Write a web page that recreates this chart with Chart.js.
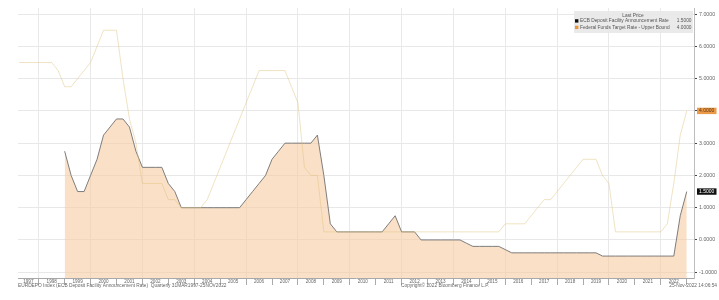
<!DOCTYPE html>
<html>
<head>
<meta charset="utf-8">
<script src="https://cdn.jsdelivr.net/npm/chart.js@4"></script>
<style>
  html, body { margin: 0; padding: 0; background: #fff; }
  canvas { display: block; }
</style>
</head>
<body>
<canvas id="rates" width="719" height="300"></canvas>
<script>
// quarterly, one row per year (Q1..Q4, plotted at quarter end)
const years = [1997, 1998, 1999, 2000, 2001, 2002, 2003, 2004, 2005, 2006, 2007, 2008, 2009,
  2010, 2011, 2012, 2013, 2014, 2015, 2016, 2017, 2018, 2019, 2020, 2021, 2022];

const ecbDeposit = [
  null, null, null, null,      // 1997
  null, null, null, 2.75,      // 1998
  2.00, 1.50, 1.50, 2.00,      // 1999
  2.50, 3.25, 3.50, 3.75,      // 2000
  3.75, 3.50, 2.75, 2.25,      // 2001
  2.25, 2.25, 2.25, 1.75,      // 2002
  1.50, 1.00, 1.00, 1.00,      // 2003
  1.00, 1.00, 1.00, 1.00,      // 2004
  1.00, 1.00, 1.00, 1.25,      // 2005
  1.50, 1.75, 2.00, 2.50,      // 2006
  2.75, 3.00, 3.00, 3.00,      // 2007
  3.00, 3.00, 3.25, 2.00,      // 2008
  0.50, 0.25, 0.25, 0.25,      // 2009
  0.25, 0.25, 0.25, 0.25,      // 2010
  0.25, 0.50, 0.75, 0.25,      // 2011
  0.25, 0.25, 0.00, 0.00,      // 2012
  0.00, 0.00, 0.00, 0.00,      // 2013
  0.00, -0.10, -0.20, -0.20,   // 2014
  -0.20, -0.20, -0.20, -0.30,  // 2015
  -0.40, -0.40, -0.40, -0.40,  // 2016
  -0.40, -0.40, -0.40, -0.40,  // 2017
  -0.40, -0.40, -0.40, -0.40,  // 2018
  -0.40, -0.40, -0.50, -0.50,  // 2019
  -0.50, -0.50, -0.50, -0.50,  // 2020
  -0.50, -0.50, -0.50, -0.50,  // 2021
  -0.50, -0.50, 0.75, 1.50     // 2022
];

const fedUpper = [
  5.50, 5.50, 5.50, 5.50,  // 1997
  5.50, 5.50, 5.25, 4.75,  // 1998
  4.75, 5.00, 5.25, 5.50,  // 1999
  6.00, 6.50, 6.50, 6.50,  // 2000
  5.00, 3.75, 3.00, 1.75,  // 2001
  1.75, 1.75, 1.75, 1.25,  // 2002
  1.25, 1.00, 1.00, 1.00,  // 2003
  1.00, 1.25, 1.75, 2.25,  // 2004
  2.75, 3.25, 3.75, 4.25,  // 2005
  4.75, 5.25, 5.25, 5.25,  // 2006
  5.25, 5.25, 4.75, 4.25,  // 2007
  2.25, 2.00, 2.00, 0.25,  // 2008
  0.25, 0.25, 0.25, 0.25,  // 2009
  0.25, 0.25, 0.25, 0.25,  // 2010
  0.25, 0.25, 0.25, 0.25,  // 2011
  0.25, 0.25, 0.25, 0.25,  // 2012
  0.25, 0.25, 0.25, 0.25,  // 2013
  0.25, 0.25, 0.25, 0.25,  // 2014
  0.25, 0.25, 0.25, 0.50,  // 2015
  0.50, 0.50, 0.50, 0.75,  // 2016
  1.00, 1.25, 1.25, 1.50,  // 2017
  1.75, 2.00, 2.25, 2.50,  // 2018
  2.50, 2.50, 2.00, 1.75,  // 2019
  0.25, 0.25, 0.25, 0.25,  // 2020
  0.25, 0.25, 0.25, 0.25,  // 2021
  0.50, 1.75, 3.25, 4.00   // 2022
];

const yTicks = [-1, 0, 1, 2, 3, 4, 5, 6, 7];
const lastEcb = "1.5000";
const lastFed = "4.0000";

const FONT = "'Liberation Sans', Arial, sans-serif";
const FED_COLOR = "rgba(222,192,122,0.5)";
const FILL_COLOR = "rgba(246,204,160,0.6)";

// quarter-end positions in decimal years
const quarterX = [];
years.forEach((y) => {
  [0.25, 0.5, 0.75, 1].forEach((q) => quarterX.push(y + q));
});
const toPoints = (arr) => arr.map((v, i) => ({ x: quarterX[i], y: v }));

const extras = {
  id: "extras",
  afterDraw(chart) {
    const ctx = chart.ctx;
    const xs = chart.scales.x;
    const ys = chart.scales.y;
    const area = chart.chartArea;
    ctx.save();

    // year labels, centred in each year
    ctx.font = `4.6px ${FONT}`;
    ctx.fillStyle = "#666";
    ctx.textAlign = "center";
    ctx.textBaseline = "middle";
    years.forEach((y) => {
      const a = Math.max(y, xs.min);
      const b = Math.min(y + 1, xs.max);
      ctx.fillText(String(y), xs.getPixelForValue((a + b) / 2), area.bottom + 4);
    });

    // footnotes
    ctx.font = `4.8px ${FONT}`;
    ctx.textBaseline = "middle";
    ctx.textAlign = "left";
    ctx.fillText("EURDEPO Index (ECB Deposit Facility Announcement Rate)  Quarterly 31MAR1997-25NOV2022", 18, 285.5);
    ctx.fillText("Copyright\u00A9 2022 Bloomberg Finance L.P.", 401, 285.5);
    ctx.textAlign = "right";
    ctx.fillText("25-Nov-2022 14:06:54", 717, 285.5);

    // legend box
    ctx.fillStyle = "rgba(232,232,232,0.9)";
    ctx.fillRect(574, 11, 119, 22);
    ctx.font = `4.8px ${FONT}`;
    ctx.fillStyle = "#555";
    ctx.textAlign = "center";
    ctx.fillText("Last Price", 633, 15.5);
    ctx.textAlign = "left";
    ctx.fillStyle = "#111";
    ctx.fillRect(575, 19.2, 3.4, 3.4);
    ctx.fillStyle = "#e9953c";
    ctx.fillRect(575, 25.7, 3.4, 3.4);
    ctx.fillStyle = "#555";
    ctx.fillText("ECB Deposit Facility Announcement Rate", 580, 21);
    ctx.fillText("Federal Funds Target Rate - Upper Bound", 580, 27.5);
    ctx.textAlign = "right";
    ctx.fillText(lastEcb, 691.5, 21);
    ctx.fillText(lastFed, 691.5, 27.5);

    // last value badges on the axis
    const badge = (val, txt, bg, fg) => {
      const py = ys.getPixelForValue(val);
      ctx.fillStyle = bg;
      ctx.fillRect(697, py - 3.2, 19.5, 6.4);
      ctx.fillStyle = fg;
      ctx.font = `5px ${FONT}`;
      ctx.textAlign = "center";
      ctx.fillText(txt, 706.7, py + 0.2);
    };
    badge(parseFloat(lastFed), lastFed, "#ea9a48", "#5a3412");
    badge(parseFloat(lastEcb), lastEcb, "#111", "#fff");

    ctx.restore();
  },
};

new Chart(document.getElementById("rates"), {
  type: "line",
  data: {
    datasets: [
      {
        label: "ECB Deposit Facility Announcement Rate",
        data: toPoints(ecbDeposit),
        borderColor: "#707070",
        borderWidth: 0.9,
        backgroundColor: FILL_COLOR,
        fill: "start",
        pointRadius: 0,
        tension: 0,
        order: 2,
      },
      {
        label: "Federal Funds Target Rate - Upper Bound",
        data: toPoints(fedUpper),
        borderColor: FED_COLOR,
        borderWidth: 0.9,
        fill: false,
        pointRadius: 0,
        tension: 0,
        order: 1,
      },
    ],
  },
  options: {
    responsive: false,
    animation: false,
    layout: { padding: { left: 18, top: 8, right: 0, bottom: 0 } },
    plugins: { legend: { display: false }, tooltip: { enabled: false } },
    scales: {
      x: {
        type: "linear",
        min: 1997.2,
        max: 2023.28,
        afterBuildTicks: (s) => {
          s.ticks = years.slice(1).concat([2023]).map((v) => ({ value: v }));
        },
        afterFit: (s) => { s.height = 22; },
        ticks: { display: false },
        grid: {
          color: (c) => (c.tick && c.tick.value % 2 === 0 ? "#e9e9e9" : "rgba(0,0,0,0)"),
          tickColor: "#aaa",
          tickLength: 7,
          drawTicks: true,
        },
        border: { color: "#a8a8a8" },
      },
      y: {
        position: "right",
        min: -1.18,
        max: 7.19,
        afterBuildTicks: (s) => {
          s.ticks = yTicks.map((v) => ({ value: v }));
        },
        afterFit: (s) => { s.width = 25; },
        ticks: {
          callback: (v) => Number(v).toFixed(4),
          font: { family: FONT, size: 5.3 },
          color: "#666",
          padding: 2,
        },
        grid: { color: "#e8e8e8", tickColor: "#444", tickLength: 3 },
        border: { color: "#bdbdbd" },
      },
    },
  },
  plugins: [extras],
});
</script>
</body>
</html>
